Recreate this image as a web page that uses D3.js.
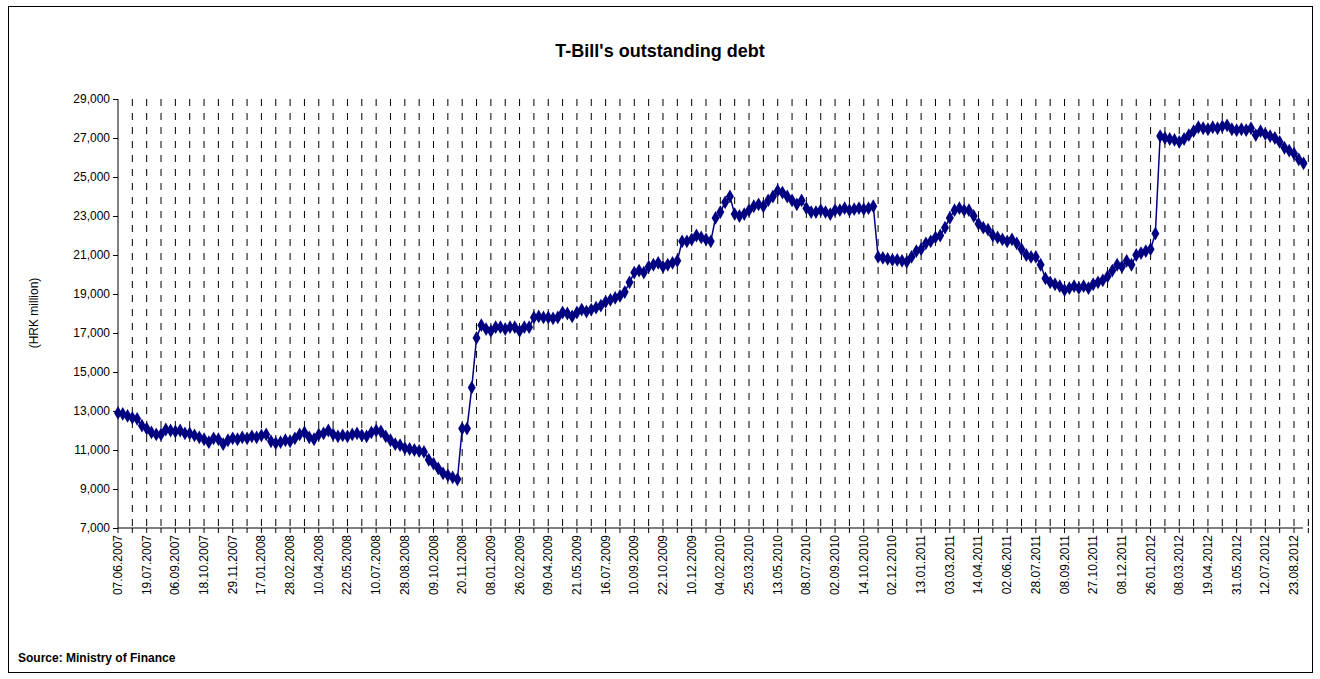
<!DOCTYPE html>
<html><head><meta charset="utf-8">
<script src="https://cdn.jsdelivr.net/npm/d3@7"></script>
<style>body{margin:0;background:#fff;font-family:Arial,"Liberation Sans",sans-serif}</style>
</head><body><svg id="c" width="1320" height="679"></svg>
<script>
// tick labels, one every 6 auctions
var tickLabels = ["07.06.2007","19.07.2007","06.09.2007","18.10.2007","29.11.2007","17.01.2008","28.02.2008","10.04.2008","22.05.2008","10.07.2008","28.08.2008","09.10.2008","20.11.2008","08.01.2009","26.02.2009","09.04.2009","21.05.2009","16.07.2009","10.09.2009","22.10.2009","10.12.2009","04.02.2010","25.03.2010","13.05.2010","08.07.2010","02.09.2010","14.10.2010","02.12.2010","13.01.2011","03.03.2011","14.04.2011","02.06.2011","28.07.2011","08.09.2011","27.10.2011","08.12.2011","26.01.2012","08.03.2012","19.04.2012","31.05.2012","12.07.2012","23.08.2012"];

// outstanding debt, HRK million
var debt2007 = [12900,12850,12750,12650,12600,12250, 12100,11900,11800,11800,12050,12000, 11950,12000,11850,11850,11750,11650, 11550,11400,11600,11550,11300,11500, 11600,11550,11650,11600,11700,11650];
var debt2008 = [11750,11800,11450,11350,11400,11500, 11450,11600,11800,11900,11650,11550, 11800,11850,12000,11800,11700,11750, 11700,11800,11850,11750,11700,11900, 12000,11950,11700,11500,11300,11250, 11100,11050,11000,10950,10900,10500, 10300,10050,9800,9700,9600,9500];
var debt2009 = [12100,12100,14200,16750,17400, 17200,17100,17300,17300,17200,17300, 17300,17100,17300,17300,17800,17850, 17800,17800,17750,17800,18050,18000, 17850,18050,18200,18100,18200,18300, 18400,18600,18700,18800,18900,19100, 19600,20100,20200,20100,20400,20500, 20600,20400,20500,20600,20700,21700, 21700,21800,22000,21900,21800,21700];
var debt2010 = [22900,23200,23700,24000,23100,23000, 23100,23300,23500,23600,23500,23800, 24000,24300,24200,24000,23800,23600, 23800,23400,23200,23200,23300,23200, 23100,23300,23300,23400,23300,23350, 23400,23350,23400,23500,20900,20850, 20800,20750,20750,20700];
var debt2011 = [20650,20900,21200,21300,21600,21700,21900, 22000,22400,22900,23300,23400,23300, 23300,23000,22600,22400,22300,22000, 21900,21800,21700,21800,21600,21300, 21000,20900,20900,20500,19800,19600, 19500,19400,19200,19300,19400,19300, 19400,19300,19500,19600,19700,19900, 20200,20500,20400,20700,20500,21000, 21100,21200];
var debt2012 = [21300,22100,27100,27000,26950,26900, 26800,26950,27150,27350,27550,27500, 27450,27550,27500,27600,27650,27450, 27400,27450,27400,27500,27150,27350, 27200,27100,27000,26800,26500,26350, 26200,25900,25700];
var yTicks = d3.range(7000, 29001, 2000);

var values = debt2007.concat(debt2008, debt2009, debt2010, debt2011, debt2012);

var svg = d3.select("#c");
svg.append("rect").attr("x", 8.5).attr("y", 6.5).attr("width", 1304).attr("height", 666)
  .attr("fill", "#fff").attr("stroke", "#000");

var pL = 118, pR = 1303, pT = 99, pB = 528;
var step = (1295 - 119) / ((tickLabels.length - 1) * 6);
var x = d3.scaleLinear().domain([0, 1]).range([pL, pL + step]);
var y = d3.scaleLinear().domain([7000, 29000]).range([pB, pT]);

// dashed gridlines every 3 categories
var gridIdx = d3.range(3, values.length + 1, 3);
svg.append("g").selectAll("line").data(gridIdx).join("line")
  .attr("x1", d => x(d)).attr("x2", d => x(d)).attr("y1", pT).attr("y2", pB)
  .attr("stroke", "#000").attr("stroke-dasharray", "7,7");

// y axis
var ya = svg.append("g").attr("transform", "translate(" + pL + ",0)")
  .call(d3.axisLeft(y).tickValues(yTicks).tickSize(5).tickFormat(d3.format(",")));
ya.selectAll("text").attr("font-size", 12).attr("font-family", "Arial").attr("fill", "#000");
ya.select(".domain").attr("d", "M0," + pT + "V" + pB);

// x axis
svg.append("line").attr("x1", pL).attr("x2", pR).attr("y1", pB).attr("y2", pB).attr("stroke", "#000");
var labIdx = d3.range(0, tickLabels.length).map(i => i * 6);
svg.append("g").selectAll("line").data(d3.range(0, values.length + 1, 3)).join("line")
  .attr("x1", d => x(d)).attr("x2", d => x(d)).attr("y1", pB).attr("y2", pB + 5).attr("stroke", "#000");
svg.append("g").selectAll("text").data(labIdx).join("text")
  .attr("transform", d => "translate(" + (x(d) + 4) + "," + (pB + 7) + ") rotate(-90)")
  .attr("text-anchor", "end").attr("font-size", 12).text((d, i) => tickLabels[i]);

// series
svg.append("path").datum(values)
  .attr("d", d3.line().x((d, i) => x(i)).y(d => y(d)))
  .attr("fill", "none").attr("stroke", "#000080").attr("stroke-width", 1.5);
svg.append("g").selectAll("path").data(values).join("path")
  .attr("transform", (d, i) => "translate(" + x(i) + "," + y(d) + ")")
  .attr("d", d3.symbol(d3.symbolDiamond, 55)).attr("fill", "#000080");

svg.append("text").attr("x", 660).attr("y", 57).attr("text-anchor", "middle")
  .attr("font-size", 18).attr("font-weight", "bold").text("T-Bill's outstanding debt");
svg.append("text").attr("transform", "translate(38,313) rotate(-90)").attr("text-anchor", "middle")
  .attr("font-size", 12).text("(HRK million)");
svg.append("text").attr("x", 18).attr("y", 662).attr("font-size", 12).attr("font-weight", "bold")
  .text("Source: Ministry of Finance");
</script></body></html>
